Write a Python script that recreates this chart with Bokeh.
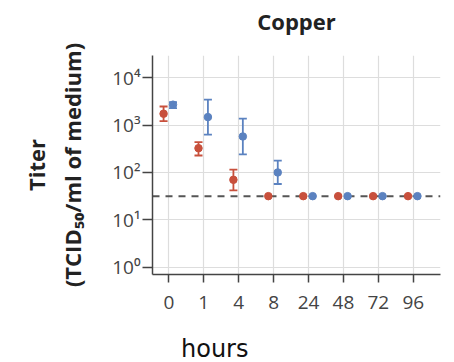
from bokeh.plotting import figure
from bokeh.layouts import column
from bokeh.models import (ColumnDataSource, FixedTicker, Whisker, TeeHead, Span, LinearAxis, Div)
from bokeh.transform import dodge
from bokeh.embed import file_html
from bokeh.resources import INLINE

# ---- data ----
hours = ["0", "1", "4", "8", "24", "48", "72", "96"]
cat_index = [0, 1, 2, 3, 4, 5, 6, 7]
red_mean = [1740, 325, 70, 31.6, 31.6, 31.6, 31.6, 31.6]
red_lo = [1215, 228, 42, None, None, None, None, None]
red_hi = [2470, 435, 115, None, None, None, None, None]
blue_mean = [2700, 1475, 575, 100, 31.6, 31.6, 31.6, 31.6]
blue_lo = [2290, 630, 240, 57, None, None, None, None]
blue_hi = [3070, 3450, 1365, 178, None, None, None, None]
detection_limit = 31.6
y_ticks = [1, 10, 100, 1000, 10000]
y_tick_labels = ["10⁰", "10¹", "10²", "10³", "10⁴"]

RED = "#c8503c"
BLUE = "#5b82c0"
FONT = "Open Sans"
X_START, X_END = -0.467, 7.78

p = figure(width=446, height=318, y_axis_type="log",
           x_range=(X_START, X_END), y_range=(0.70, 29500),
           output_backend="svg", toolbar_location=None,
           min_border_left=152, min_border_right=6,
           min_border_top=55, min_border_bottom=44)
p.outline_line_color = None
p.background_fill_color = "white"

# axes
p.xaxis.ticker = FixedTicker(ticks=cat_index)
p.xaxis.major_label_overrides = {i: h for i, h in zip(cat_index, hours)}
p.yaxis.ticker = FixedTicker(ticks=y_ticks)
p.yaxis.major_label_overrides = {t: l for t, l in zip(y_ticks, y_tick_labels)}
for ax in (p.xaxis[0], p.yaxis[0]):
    ax.axis_line_color = "#444444"
    ax.axis_line_width = 1.5
    ax.major_tick_line_color = "#444444"
    ax.major_tick_line_width = 1.5
    ax.major_tick_in = 0
    ax.minor_tick_line_color = None
    ax.major_label_text_font = FONT
    ax.major_label_text_font_size = "19px"
    ax.major_label_text_color = "#444444"
p.xaxis.major_tick_out = 8
p.xaxis.major_label_standoff = 13
p.yaxis.major_tick_out = 10
p.yaxis.major_label_standoff = 2

p.yaxis.axis_label = "Titer\n(TCID₅₀/ml of medium)"
p.yaxis.axis_label_text_font = FONT
p.yaxis.axis_label_text_font_size = "22px"
p.yaxis.axis_label_text_font_style = "bold"
p.yaxis.axis_label_text_color = "#222222"
p.yaxis.axis_label_standoff = 22

p.xgrid.grid_line_color = "#dddddd"
p.ygrid.grid_line_color = "#dddddd"
p.xgrid.grid_line_width = 1.2
p.ygrid.grid_line_width = 1.2

# detection limit
p.add_layout(Span(location=detection_limit, dimension="width", line_color="#555555",
                  line_width=2, line_dash="7 6", level="underlay"))

def add_series(mean, lo, hi, color, off):
    src = ColumnDataSource(dict(x=cat_index, y=mean))
    idx = [i for i in range(len(cat_index)) if lo[i] is not None]
    esrc = ColumnDataSource(dict(x=[cat_index[i] for i in idx],
                                 lo=[lo[i] for i in idx],
                                 hi=[hi[i] for i in idx]))
    w = Whisker(source=esrc, base=dodge("x", off), lower="lo", upper="hi",
                dimension="height", line_color=color, line_width=1.8,
                upper_head=TeeHead(size=8, line_color=color, line_width=1.8),
                lower_head=TeeHead(size=8, line_color=color, line_width=1.8),
                level="glyph")
    p.add_layout(w)
    p.scatter(x=dodge("x", off), y="y", source=src, size=7.5,
              fill_color=color, line_color=color)

add_series(red_mean, red_lo, red_hi, RED, -0.15)
add_series(blue_mean, blue_lo, blue_hi, BLUE, 0.12)

# chart title as a bare axis label above the frame
title_axis = LinearAxis(ticker=FixedTicker(ticks=[]), axis_line_color=None,
                        major_tick_line_color=None, minor_tick_line_color=None,
                        axis_label="Copper", axis_label_standoff=20,
                        axis_label_text_font=FONT, axis_label_text_font_size="22px",
                        axis_label_text_font_style="bold",
                        axis_label_text_color="#222222")
p.add_layout(title_axis, "above")

# "hours" caption, sitting left of the frame centre as in the original
caption = Div(text="hours", width=120, height=23, margin=(19, 0, 0, 181),
              styles={"font-family": "DejaVu Sans", "font-size": "24px",
                      "color": "#111111", "line-height": "24px"})

layout = column(p, caption, spacing=0)

open("out.html", "w").write(file_html(layout, INLINE))
